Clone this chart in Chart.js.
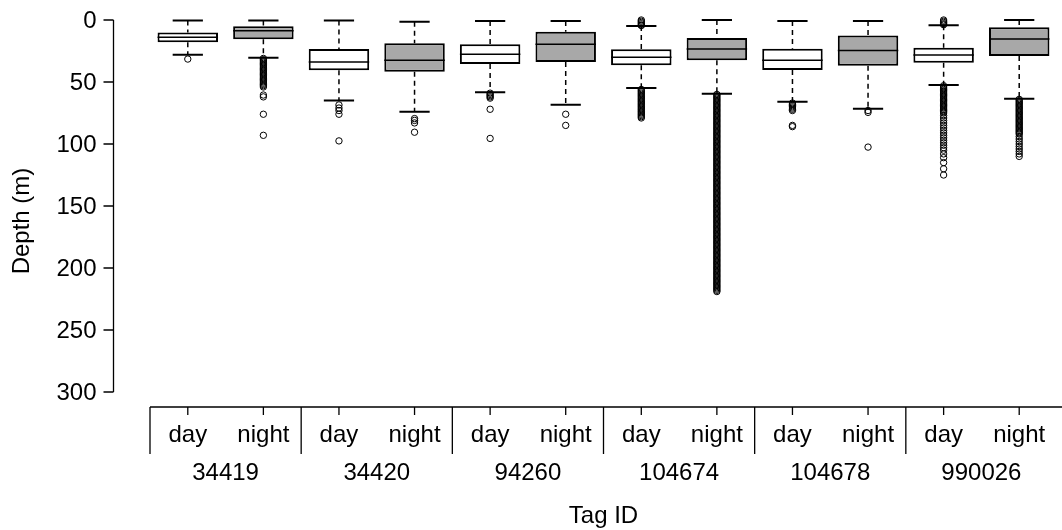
<!DOCTYPE html>
<html lang="en">
<head>
<meta charset="UTF-8">
<title>Depth by Tag ID</title>
<script src="https://cdn.jsdelivr.net/npm/chart.js"></script>
<style>
  body { margin: 0; background: #fff; }
  #wrap { width: 1062px; height: 530px; }
</style>
</head>
<body>
<div id="wrap"><canvas id="depthChart"></canvas></div>
<script>
const tagIds = ['34419', '34420', '94260', '104674', '104678', '990026'];
const periods = ['day', 'night'];

// box statistics, one value per tag/period (day, night, day, night ...)
const whiskerTop = [0.5, 0.5, 0.5, 1.4, 0.8, 0.8, 4.8, 0, 0.8, 0.8, 4.3, 0];
const q1 = [10, 5, 23.4, 18.8, 19.6, 9.4, 23.6, 14.5, 23.1, 12.6, 22.3, 5.9];
const medians = [14, 8.6, 33.9, 32.5, 27.7, 19.6, 30, 23.4, 32.5, 24.5, 28.2, 15.3];
const q3 = [18, 15.6, 40.6, 41.7, 35.5, 33.9, 36.5, 32.5, 40.3, 36.8, 34.4, 29];
const whiskerBottom = [28, 30.4, 65, 74, 58.3, 68.3, 54.8, 59.4, 66, 71.5, 52.4, 63.5];

const outliers = [
  [31.5],
  [31, 32, 33, 34, 35, 36, 37, 38, 39, 40, 41, 42, 43, 44, 45, 46, 47, 48, 49, 50, 51, 52, 53, 54, 60.5, 62, 76, 93],
  [68.5, 71, 73, 76, 97.5],
  [79.5, 81, 83, 90.5],
  [59, 60, 61, 62, 63, 72, 95.5],
  [76, 85],
  [0, 1, 2, 3, 4, 4.5,
   56, 57, 58, 59, 60, 61, 62, 63, 64, 65, 66, 67, 68, 69, 70, 71, 72, 73, 74, 75, 76, 77, 78, 79],
  [60, 61, 62, 63, 64, 65, 66, 67, 68, 69, 70, 71, 72, 73, 74, 75, 76, 77, 78, 79,
   80, 81, 82, 83, 84, 85, 86, 87, 88, 89, 90, 91, 92, 93, 94, 95, 96, 97, 98, 99,
   100, 101, 102, 103, 104, 105, 106, 107, 108, 109, 110, 111, 112, 113, 114, 115, 116, 117, 118, 119,
   120, 121, 122, 123, 124, 125, 126, 127, 128, 129, 130, 131, 132, 133, 134, 135, 136, 137, 138, 139,
   140, 141, 142, 143, 144, 145, 146, 147, 148, 149, 150, 151, 152, 153, 154, 155, 156, 157, 158, 159,
   160, 161, 162, 163, 164, 165, 166, 167, 168, 169, 170, 171, 172, 173, 174, 175, 176, 177, 178, 179,
   180, 181, 182, 183, 184, 185, 186, 187, 188, 189, 190, 191, 192, 193, 194, 195, 196, 197, 198, 199,
   200, 201, 202, 203, 204, 205, 206, 207, 208, 209, 210, 211, 212, 213, 214, 215, 216, 217, 218, 219],
  [67, 68, 69, 70, 71, 72, 73, 85, 86],
  [73, 74.5, 102.5],
  [0, 1, 2, 3, 3.8,
   53, 54, 55, 56, 57, 58, 59, 60, 61, 62, 63, 64, 65, 66, 67, 68, 69, 70, 71, 72, 73, 74, 75,
   77, 79, 81, 83, 85, 87, 89, 91, 93, 95, 97, 99, 101, 103, 105, 108, 111, 115, 120, 125],
  [64, 65, 66, 67, 68, 69, 70, 71, 72, 73, 74, 75, 76, 77, 78, 79, 80, 81, 82, 83, 84, 85, 86, 87, 88, 89, 90, 91, 92,
   94, 96, 98, 100, 102, 104, 106, 108, 110]
];

const depthTicks = [0, 50, 100, 150, 200, 250, 300];

const FONT = "'Liberation Sans', Arial, sans-serif";
const categories = tagIds.flatMap(t => periods.map(p => t + ' ' + p));
const boxColors = categories.map((c, i) => i % 2 === 0 ? '#ffffff' : '#a8a8a8');
const outlierPoints = outliers.flatMap((list, i) => list.map(v => ({ x: categories[i], y: v })));

// whiskers, caps, medians and the R-style axes
const boxExtras = {
  id: 'boxExtras',
  beforeDatasetsDraw(chart) {
    const { ctx, scales: { y } } = chart;
    const bars = chart.getDatasetMeta(0).data;
    ctx.save();
    ctx.strokeStyle = '#000';
    bars.forEach((bar, i) => {
      const cx = bar.x;
      const half = bar.width / 4;
      ctx.setLineDash([5, 4]);
      ctx.lineWidth = 1.5;
      ctx.beginPath();
      ctx.moveTo(cx, y.getPixelForValue(whiskerTop[i]));
      ctx.lineTo(cx, y.getPixelForValue(q1[i]));
      ctx.moveTo(cx, y.getPixelForValue(q3[i]));
      ctx.lineTo(cx, y.getPixelForValue(whiskerBottom[i]));
      ctx.stroke();
      ctx.setLineDash([]);
      ctx.lineWidth = 2;
      ctx.beginPath();
      [whiskerTop[i], whiskerBottom[i]].forEach(v => {
        const py = y.getPixelForValue(v);
        ctx.moveTo(cx - half, py);
        ctx.lineTo(cx + half, py);
      });
      ctx.stroke();
    });
    ctx.restore();
  },
  afterDatasetDraw(chart, args) {
    if (args.index !== 0) return;
    const { ctx, scales: { y } } = chart;
    ctx.save();
    ctx.strokeStyle = '#000';
    ctx.lineWidth = 1.5;
    args.meta.data.forEach((bar, i) => {
      const py = y.getPixelForValue(medians[i]);
      ctx.beginPath();
      ctx.moveTo(bar.x - bar.width / 2, py);
      ctx.lineTo(bar.x + bar.width / 2, py);
      ctx.stroke();
    });
    ctx.restore();
  },
  afterDraw(chart) {
    const { ctx, chartArea: area, scales: { x, y } } = chart;
    ctx.save();
    ctx.strokeStyle = '#000';
    ctx.fillStyle = '#000';
    ctx.lineWidth = 1.3;
    ctx.font = '24px ' + FONT;

    // y axis line, offset from the plot, with its tick labels
    const ax = area.left - 36.5;
    ctx.beginPath();
    ctx.moveTo(ax, y.getPixelForValue(depthTicks[0]));
    ctx.lineTo(ax, y.getPixelForValue(depthTicks[depthTicks.length - 1]));
    depthTicks.forEach(v => {
      const py = y.getPixelForValue(v);
      ctx.moveTo(ax - 10, py);
      ctx.lineTo(ax, py);
    });
    ctx.stroke();
    ctx.textAlign = 'right';
    ctx.textBaseline = 'middle';
    depthTicks.forEach(v => {
      ctx.fillText(String(v), ax - 17, y.getPixelForValue(v) + 1);
    });

    // y title
    ctx.save();
    ctx.translate(29, (area.top + area.bottom) / 2 + 15);
    ctx.rotate(-Math.PI / 2);
    ctx.textAlign = 'center';
    ctx.textBaseline = 'alphabetic';
    ctx.fillText('Depth (m)', 0, 0);
    ctx.restore();

    // x axis: line, group separators, ticks, labels
    const baseY = area.bottom + 15;
    const step = x.getPixelForValue(1) - x.getPixelForValue(0);
    ctx.beginPath();
    ctx.moveTo(area.left, baseY);
    ctx.lineTo(chart.width, baseY);
    categories.forEach((c, i) => {
      const px = x.getPixelForValue(i);
      ctx.moveTo(px, baseY);
      ctx.lineTo(px, baseY + 8);
      if (i % 2 === 0) {
        ctx.moveTo(px - step / 2, baseY);
        ctx.lineTo(px - step / 2, baseY + 47);
      }
    });
    ctx.stroke();

    ctx.textAlign = 'center';
    ctx.textBaseline = 'alphabetic';
    categories.forEach((c, i) => {
      ctx.fillText(periods[i % 2], x.getPixelForValue(i), baseY + 35);
    });
    tagIds.forEach((t, g) => {
      const px = (x.getPixelForValue(g * 2) + x.getPixelForValue(g * 2 + 1)) / 2;
      ctx.fillText(t, px, baseY + 73);
    });
    ctx.fillText('Tag ID', (area.left + area.right) / 2, baseY + 116);
    ctx.restore();
  }
};

new Chart(document.getElementById('depthChart'), {
  type: 'bar',
  data: {
    labels: categories,
    datasets: [
      {
        data: q1.map((v, i) => [v, q3[i]]),
        backgroundColor: boxColors,
        borderColor: '#000',
        borderWidth: 2,
        borderSkipped: false,
        barPercentage: 0.8,
        categoryPercentage: 1,
        order: 1
      },
      {
        type: 'scatter',
        data: outlierPoints,
        pointRadius: 3.2,
        pointBorderWidth: 1,
        pointBorderColor: '#000',
        pointBackgroundColor: 'rgba(0,0,0,0)',
        clip: false,
        order: 0
      }
    ]
  },
  options: {
    responsive: true,
    maintainAspectRatio: false,
    animation: false,
    layout: { padding: { top: 20, bottom: 138, left: 0, right: 0 } },
    plugins: { legend: { display: false }, tooltip: { enabled: false } },
    scales: {
      x: {
        type: 'category',
        offset: true,
        grid: { display: false, drawTicks: false },
        border: { display: false },
        ticks: { display: false },
        afterFit: s => { s.height = 0; }
      },
      y: {
        reverse: true,
        min: 0,
        max: 300,
        grid: { display: false, drawTicks: false },
        border: { display: false },
        ticks: { display: false },
        afterFit: s => { s.width = 150; }
      }
    }
  },
  plugins: [boxExtras]
});
</script>
</body>
</html>
